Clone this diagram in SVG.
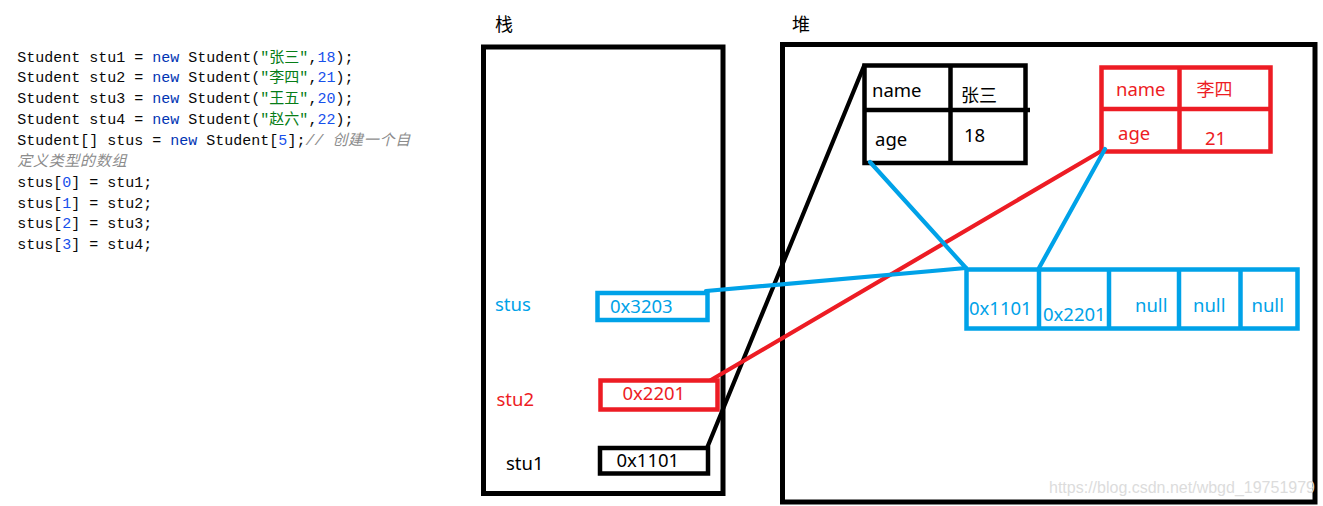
<svg xmlns="http://www.w3.org/2000/svg" width="1323" height="506" viewBox="0 0 1323 506">
<style>
.code{font-family:"Liberation Mono","Noto Sans CJK SC",monospace;font-size:15px;fill:#080808;white-space:pre}
.kw{fill:#0033b3}.str{fill:#067d17}.num{fill:#1750eb}.cm{fill:#8c8c8c;font-style:italic}
.cjkc{letter-spacing:0.7px}
.lbl{font-family:"Noto Sans","Noto Sans CJK SC",sans-serif;font-size:18.5px}
.cjk{font-family:"Noto Sans CJK SC",sans-serif;font-size:18px}
.k{fill:#000}.r{fill:#ed1c24}.b{fill:#00a2e8}
.box{fill:none;stroke-width:5}
.bx{fill:none;stroke-width:4.5}
.sk{stroke:#000}.sr{stroke:#ed1c24}.sb{stroke:#00a2e8}
.wire{fill:none;stroke-width:4.2;stroke-linecap:round}
</style>
<rect width="1323" height="506" fill="#fff"/>
<g id="code" class="code">
<text x="17.3" y="61.5">Student stu1 = <tspan class="kw">new</tspan> Student(<tspan class="str">"张三"</tspan>,<tspan class="num">18</tspan>);</text>
<text x="17.3" y="82.3">Student stu2 = <tspan class="kw">new</tspan> Student(<tspan class="str">"李四"</tspan>,<tspan class="num">21</tspan>);</text>
<text x="17.3" y="103.2">Student stu3 = <tspan class="kw">new</tspan> Student(<tspan class="str">"王五"</tspan>,<tspan class="num">20</tspan>);</text>
<text x="17.3" y="124.1">Student stu4 = <tspan class="kw">new</tspan> Student(<tspan class="str">"赵六"</tspan>,<tspan class="num">22</tspan>);</text>
<text x="17.3" y="145">Student[] stus = <tspan class="kw">new</tspan> Student[<tspan class="num">5</tspan>];<tspan class="cm">// <tspan class="cjkc">创建一个自</tspan></tspan></text>
<text x="17.3" y="166" class="cm cjkc">定义类型的数组</text>
<text x="17.3" y="186.7">stus[<tspan class="num">0</tspan>] = stu1;</text>
<text x="17.3" y="207.5">stus[<tspan class="num">1</tspan>] = stu2;</text>
<text x="17.3" y="228.3">stus[<tspan class="num">2</tspan>] = stu3;</text>
<text x="17.3" y="249">stus[<tspan class="num">3</tspan>] = stu4;</text>
</g>
<g id="stack">
<text class="cjk k" x="495" y="31">栈</text>
<rect class="box sk" x="483.5" y="47" width="239.5" height="446.5"/>
</g>
<g id="heap">
<text class="cjk k" x="792" y="31">堆</text>
<rect class="box sk" x="782.5" y="44.5" width="532.5" height="457.5"/>
</g>
<g id="var-stus">
<text class="lbl b" x="495" y="311">stus</text>
<rect class="bx sb" x="597.5" y="293" width="110" height="27"/>
<text class="lbl b" x="610" y="313">0x3203</text>
</g>
<g id="var-stu2">
<text class="lbl r" x="496.5" y="406">stu2</text>
<rect class="bx sr" x="600.5" y="380.5" width="117" height="29"/>
<text class="lbl r" x="622.5" y="400">0x2201</text>
</g>
<g id="var-stu1">
<text class="lbl k" x="506" y="470">stu1</text>
<rect class="bx sk" x="600" y="448" width="108" height="25.5"/>
<text class="lbl k" x="616.5" y="467">0x1101</text>
</g>
<g id="obj-zhangsan">
<rect class="bx sk" x="864.5" y="65.5" width="161" height="97.5"/>
<line class="sk" stroke-width="4.5" x1="864.5" y1="110" x2="1030" y2="110"/>
<line class="sk" stroke-width="4.5" x1="950.5" y1="65.5" x2="950.5" y2="163"/>
<text class="lbl k" x="872" y="97">name</text>
<text class="cjk k" x="961" y="102">张三</text>
<text class="lbl k" x="875" y="146">age</text>
<text class="lbl k" x="964" y="142">18</text>
</g>
<g id="obj-lisi">
<rect class="bx sr" x="1101.5" y="67.5" width="169" height="84"/>
<line class="sr" stroke-width="4.5" x1="1101.5" y1="109" x2="1270.5" y2="109"/>
<line class="sr" stroke-width="4.5" x1="1179.5" y1="67.5" x2="1179.5" y2="151.5"/>
<text class="lbl r" x="1116" y="96">name</text>
<text class="cjk r" x="1196.5" y="96">李四</text>
<text class="lbl r" x="1118" y="140">age</text>
<text class="lbl r" x="1205" y="145">21</text>
</g>
<g id="array">
<rect class="bx sb" x="966.5" y="269.5" width="331" height="59"/>
<line class="sb" stroke-width="4.5" x1="1039" y1="269.5" x2="1039" y2="328.5"/>
<line class="sb" stroke-width="4.5" x1="1109" y1="269.5" x2="1109" y2="328.5"/>
<line class="sb" stroke-width="4.5" x1="1179" y1="269.5" x2="1179" y2="328.5"/>
<line class="sb" stroke-width="4.5" x1="1240.5" y1="269.5" x2="1240.5" y2="328.5"/>
<text class="lbl b" x="969" y="315">0x1101</text>
<text class="lbl b" x="1043" y="321">0x2201</text>
<text class="lbl b" x="1135" y="312">null</text>
<text class="lbl b" x="1193" y="312">null</text>
<text class="lbl b" x="1251.5" y="312">null</text>
</g>
<g id="connectors">
<line class="wire sk" x1="707" y1="448" x2="864" y2="66"/>
<line class="wire sr" x1="711" y1="380" x2="1103" y2="150"/>
<line class="wire sb" x1="706" y1="291" x2="966" y2="268"/>
<line class="wire sb" x1="870" y1="162" x2="966" y2="268"/>
<line class="wire sb" x1="1105" y1="149" x2="1039" y2="268"/>
</g>
<g id="watermark">
<text x="1049" y="493" font-family="'Liberation Sans',sans-serif" font-size="16" fill="#dcdcdc">https://blog.csdn.net/wbgd_19751979</text>
</g>
</svg>
